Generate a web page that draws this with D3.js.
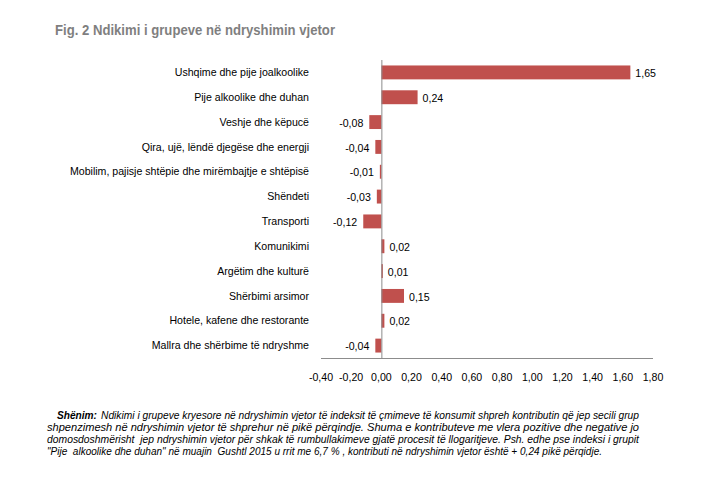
<!DOCTYPE html>
<html>
<head>
<meta charset="utf-8">
<script src="https://cdn.jsdelivr.net/npm/d3@7"></script>
<style>
  body { margin: 0; background: #fff; }
  svg { display: block; font-family: "Liberation Sans", Arial, sans-serif; }
</style>
</head>
<body>
<svg width="709" height="496"></svg>
<script>
  const categories = [
    'Ushqime dhe pije joalkoolike',
    'Pije alkoolike dhe duhan',
    'Veshje dhe këpucë',
    'Qira, ujë, lëndë djegëse dhe energji',
    'Mobilim, pajisje shtëpie dhe mirëmbajtje e shtëpisë',
    'Shëndeti',
    'Transporti',
    'Komunikimi',
    'Argëtim dhe kulturë',
    'Shërbimi arsimor',
    'Hotele, kafene dhe restorante',
    'Mallra dhe shërbime të ndryshme'
  ];
  const values = [1.65, 0.24, -0.08, -0.04, -0.01, -0.03, -0.12, 0.02, 0.01, 0.15, 0.02, -0.04];
  const ticks = [-0.4, -0.2, 0, 0.2, 0.4, 0.6, 0.8, 1.0, 1.2, 1.4, 1.6, 1.8];

  const title = 'Fig. 2 Ndikimi i grupeve në ndryshimin vjetor';
  const noteHead = 'Shënim:';
  const noteLines = [
    'Ndikimi i grupeve kryesore në ndryshimin vjetor të indeksit të çmimeve të konsumit shpreh kontributin që jep secili grup',
    'shpenzimesh në ndryshimin vjetor të shprehur në pikë përqindje. Shuma e kontributeve me vlera pozitive dhe negative jo',
    'domosdoshmërisht  jep ndryshimin vjetor për shkak të rumbullakimeve gjatë procesit të llogaritjeve. Psh. edhe pse indeksi i grupit',
    '"Pije  alkoolike dhe duhan" në muajin  Gushtl 2015 u rrit me 6,7 % , kontributi në ndryshimin vjetor është + 0,24 pikë përqidje.'
  ];

  // comma decimals, plain hyphen for minus
  const fmt = v => d3.format('.2f')(v).replace('.', ',').replace('\u2212', '-');

  const svg = d3.select('svg');

  svg.append('text')
    .attr('x', 55)
    .attr('y', 35)
    .attr('font-size', 15.5)
    .attr('font-weight', 'bold')
    .attr('fill', '#7f7f7f')
    .attr('textLength', 280)
    .attr('lengthAdjust', 'spacingAndGlyphs')
    .text(title);

  const x = d3.scaleLinear().domain([-0.4, 1.8]).range([321, 653]);
  const y = d3.scaleBand().domain(categories).range([60, 358])
    .paddingInner(0.44).paddingOuter(0.22);

  const g = svg.append('g');

  g.selectAll('rect').data(values)
    .enter().append('rect')
      .attr('x', d => x(Math.min(0, d)))
      .attr('y', (d, i) => y(categories[i]))
      .attr('width', d => Math.abs(x(d) - x(0)))
      .attr('height', y.bandwidth())
      .attr('fill', '#C0504D');

  // axis lines, no tick marks
  g.append('line')
    .attr('x1', x(-0.4)).attr('x2', x(1.8))
    .attr('y1', 358.5).attr('y2', 358.5)
    .attr('stroke', '#8c8c8c');
  g.append('line')
    .attr('x1', x(0) + 0.5).attr('x2', x(0) + 0.5)
    .attr('y1', 60).attr('y2', 358.5)
    .attr('stroke', '#8c8c8c');

  g.selectAll('text.cat').data(categories)
    .enter().append('text')
      .attr('class', 'cat')
      .attr('x', 309)
      .attr('y', d => y(d) + y.bandwidth() / 2)
      .attr('dy', '0.35em')
      .attr('text-anchor', 'end')
      .attr('font-size', 10.6)
      .text(d => d);

  g.selectAll('text.val').data(values)
    .enter().append('text')
      .attr('class', 'val')
      .attr('x', d => d < 0 ? x(d) - 6 : x(d) + 5)
      .attr('y', (d, i) => y(categories[i]) + y.bandwidth() / 2 + 1)
      .attr('dy', '0.35em')
      .attr('text-anchor', d => d < 0 ? 'end' : 'start')
      .attr('font-size', 10.6)
      .text(d => fmt(d));

  g.selectAll('text.tick').data(ticks)
    .enter().append('text')
      .attr('class', 'tick')
      .attr('x', d => x(d))
      .attr('y', 377)
      .attr('dy', '0.35em')
      .attr('text-anchor', 'middle')
      .attr('font-size', 10.6)
      .text(d => fmt(d));

  const note = svg.append('g')
    .attr('font-size', 10.5)
    .attr('font-style', 'italic');

  const noteBase = [419, 431, 443, 455];
  const noteStart = [101, 47, 47, 47];
  const noteEnd = [639, 639, 639, 602];

  note.append('text')
    .attr('x', 57)
    .attr('y', noteBase[0])
    .attr('font-weight', 'bold')
    .attr('textLength', 40)
    .attr('lengthAdjust', 'spacingAndGlyphs')
    .text(noteHead);

  noteLines.forEach((line, i) => {
    note.append('text')
      .attr('x', noteStart[i])
      .attr('y', noteBase[i])
      .attr('xml:space', 'preserve')
      .attr('textLength', noteEnd[i] - noteStart[i])
      .attr('lengthAdjust', 'spacingAndGlyphs')
      .text(line);
  });
</script>
</body>
</html>
